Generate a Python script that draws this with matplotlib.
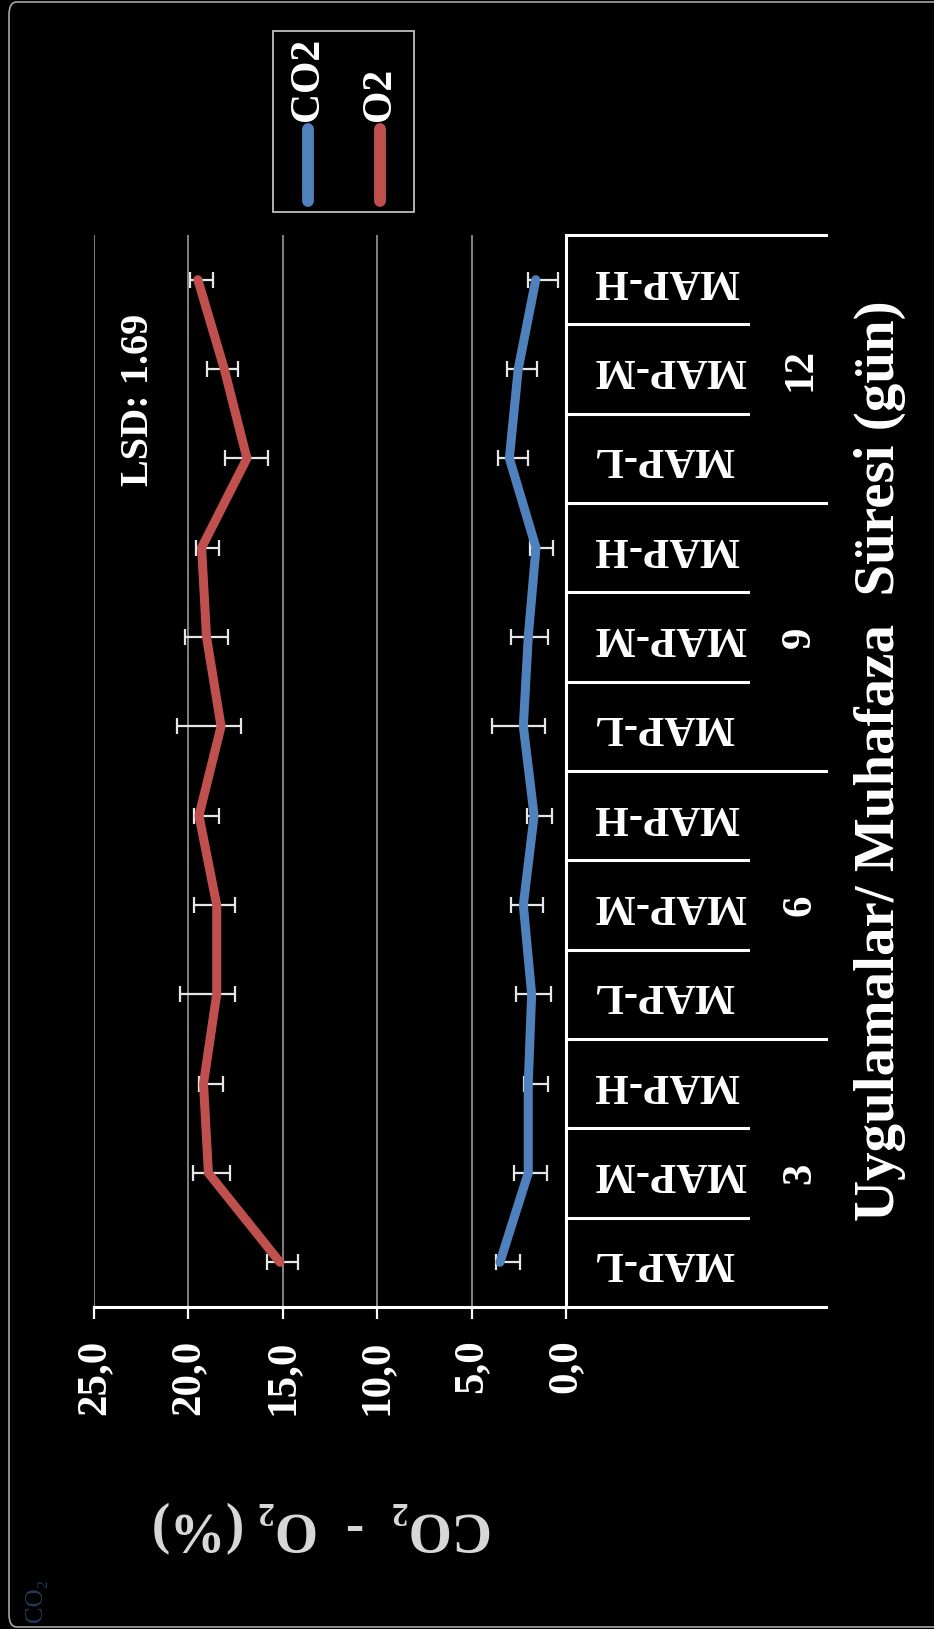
import matplotlib.pyplot as plt
from matplotlib.patches import FancyBboxPatch, Rectangle
from matplotlib.lines import Line2D

plt.rcParams['font.family'] = ['Liberation Serif', 'DejaVu Serif']

# storage period (days) and MAP treatments, bottom to top
periods = ['3', '6', '9', '12']
treatments = ['MAP-L', 'MAP-M', 'MAP-H']

co2 = [3.5, 2.0, 2.0, 1.82, 2.26, 1.69, 2.26, 2.0, 1.59, 3.0, 2.53, 1.6]
co2_err_lo = [1.05, 1.0, 1.06, 1.01, 1.06, 0.93, 1.15, 1.06, 0.92, 1.0, 1.01, 1.16]
co2_err_hi = [0.2, 0.75, 0.2, 0.83, 0.67, 0.39, 1.64, 0.93, 0.3, 0.59, 0.61, 0.4]

o2 = [15.15, 18.94, 19.2, 18.5, 18.5, 19.44, 18.27, 19.04, 19.3, 16.9, 18.1, 19.5]
o2_err_lo = [0.97, 1.14, 1.02, 0.97, 0.97, 1.08, 1.04, 1.14, 0.94, 1.1, 0.75, 0.82]
o2_err_hi = [0.7, 0.83, 0.22, 1.94, 1.19, 0.26, 2.33, 1.16, 0.3, 1.15, 0.9, 0.4]

value_ticks = [0, 5, 10, 15, 20, 25]
value_labels = ['0,0', '5,0', '10,0', '15,0', '20,0', '25,0']

W, H = 934, 1629
BLUE = '#4F81BD'
RED = '#C0504D'


def fx(px):
    return px / W


def fy(py):
    return 1 - py / H


fig = plt.figure(figsize=(W / 100, H / 100), dpi=100)
fig.patch.set_facecolor('black')

# chart frame
fig.add_artist(FancyBboxPatch((fx(9), fy(1627)), fx(960) - fx(9), fy(2) - fy(1627),
                              boxstyle='round,pad=0,rounding_size=0.008',
                              transform=fig.transFigure, facecolor='none',
                              edgecolor='#a6a6a6', lw=1.2))

ax = fig.add_axes([fx(94), fy(1307), fx(566) - fx(94), fy(235) - fy(1307)])
ax.set_facecolor('black')

n = len(periods) * len(treatments)
pos = [i + 0.5 for i in range(n)]

ax.set_xlim(25, 0)
ax.set_ylim(0, n)

for v in value_ticks[1:]:
    ax.axvline(v, color='#8c8c8c', lw=1.3, zorder=0)

ax.errorbar(co2, pos, xerr=[co2_err_lo, co2_err_hi], fmt='none', ecolor='#e6e6e6',
            elinewidth=1.6, capsize=5.5, capthick=1.6, zorder=2)
ax.errorbar(o2, pos, xerr=[o2_err_lo, o2_err_hi], fmt='none', ecolor='#e6e6e6',
            elinewidth=1.6, capsize=5.5, capthick=1.6, zorder=2)
ax.plot(co2, pos, color=BLUE, lw=6.5, solid_capstyle='round', solid_joinstyle='round', zorder=3)
ax.plot(o2, pos, color=RED, lw=6.5, solid_capstyle='round', solid_joinstyle='round', zorder=3)

for s in ['top', 'left']:
    ax.spines[s].set_visible(False)
ax.spines['bottom'].set_color('white')
ax.spines['bottom'].set_linewidth(2.2)
ax.spines['right'].set_color('white')
ax.spines['right'].set_linewidth(2.2)

ax.set_xticks(value_ticks)
ax.set_xticklabels(value_labels, rotation=90, fontsize=31, fontweight='bold', color='white')
ax.tick_params(axis='x', colors='white', width=1.6, length=8.5, direction='out', pad=15)
ax.set_yticks([])

# multi-level category axis on the right side
tr = ax.get_yaxis_transform()
inner = (748 - 94) / (566 - 94)
outer = (826 - 94) / (566 - 94)
for k in range(n + 1):
    end = outer if k % len(treatments) == 0 else inner
    ax.plot([1, end], [k, k], transform=tr, color='white', lw=2.2, clip_on=False)

lab_x = (593 - 94) / (566 - 94)
grp_x = (800 - 94) / (566 - 94)
for g, p in enumerate(periods):
    for t, name in enumerate(treatments):
        k = g * len(treatments) + t
        ax.text(lab_x, k + 0.5, name, transform=tr, rotation=180, ha='left', va='center',
                fontsize=31, fontweight='bold', color='white')
    ax.text(grp_x, g * len(treatments) + 1.5, p, transform=tr, rotation=90, ha='center',
            va='center', fontsize=31, fontweight='bold', color='white')

ax.text(fx(138), fy(400), 'LSD: 1.69', transform=fig.transFigure, rotation=90,
        ha='center', va='center', fontsize=29, fontweight='bold', color='white')

fig.text(fx(880), fy(761), 'Uygulamalar/ Muhafaza  Süresi (gün)', rotation=90,
         ha='center', va='center', fontsize=41, fontweight='bold', color='white')
fig.text(fx(322), fy(1527), 'CO₂  -  O₂ (%)', rotation=180, ha='center', va='center',
         fontsize=40, fontweight='bold', color='#d9d9d9')
fig.text(fx(36), fy(1600), 'CO₂', rotation=90, ha='center', va='center',
         fontsize=18, color='#22395a')

# legend box
fig.add_artist(Rectangle((fx(273), fy(212)), fx(414) - fx(273), fy(31) - fy(212),
                         transform=fig.transFigure, facecolor='none',
                         edgecolor='#bfbfbf', lw=1.3))
for x, c, name in [(308, BLUE, 'CO2'), (380, RED, 'O2')]:
    fig.add_artist(Line2D([fx(x), fx(x)], [fy(201), fy(129)], transform=fig.transFigure,
                          color=c, lw=8.5, solid_capstyle='round'))
    fig.text(fx(x), fy(121), name, rotation=90, ha='center', va='bottom',
             fontsize=30, fontweight='bold', color='white')

fig.savefig('out.png', dpi=100, facecolor='black')
